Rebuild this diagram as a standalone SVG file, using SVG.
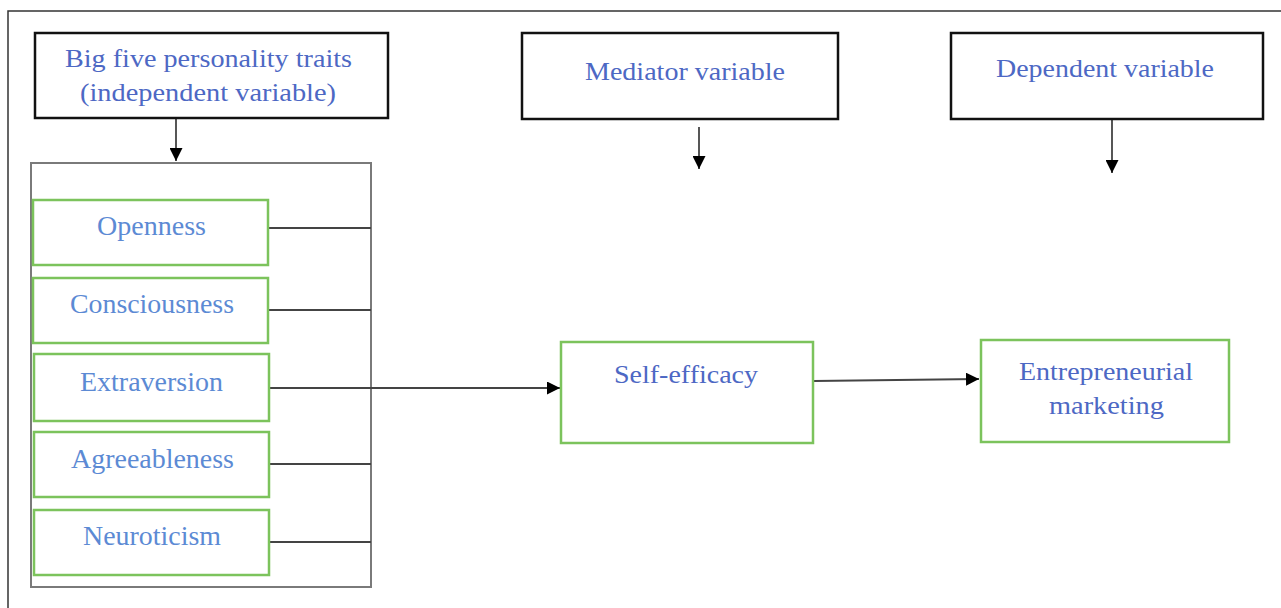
<svg xmlns="http://www.w3.org/2000/svg" width="1281" height="608" viewBox="0 0 1281 608">
<style>
.frame{fill:none;stroke:#333;stroke-width:1.5}
.hdr{fill:#fff;stroke:#111;stroke-width:2.5}
.grp{fill:none;stroke:#7a7a7a;stroke-width:2}
.grn{fill:#fff;stroke:#7cc35c;stroke-width:2.5}
.t1{font-family:"Liberation Serif",serif;font-size:26px;fill:#4d68c4;text-anchor:start}
.t2{font-family:"Liberation Serif",serif;font-size:27px;fill:#5c8ad4;text-anchor:start}
.ln{fill:none;stroke:#444;stroke-width:1.8}
</style>
<defs>
<marker id="ahb" viewBox="0 0 10 10" refX="10" refY="5" markerWidth="13" markerHeight="13" markerUnits="userSpaceOnUse" orient="auto">
<path d="M0,0 L10,5 L0,10 z" fill="#000"/>
</marker>
</defs>
<rect width="1281" height="608" fill="#fff"/>
<path class="frame" d="M8,608 L8,11 L1281,11"/>
<g id="container"><rect class="grp" x="31" y="163" width="340" height="424"/></g>
<g id="connectors">
<line class="ln" x1="176" y1="119" x2="176" y2="161" marker-end="url(#ahb)"/>
<line class="ln" x1="699" y1="127" x2="699" y2="169" marker-end="url(#ahb)"/>
<line class="ln" x1="1112" y1="119" x2="1112" y2="173" marker-end="url(#ahb)"/>
<line class="ln" x1="269" y1="228" x2="371" y2="228"/>
<line class="ln" x1="269" y1="310" x2="371" y2="310"/>
<line class="ln" x1="270" y1="388" x2="560" y2="388" marker-end="url(#ahb)"/>
<line class="ln" x1="270" y1="464" x2="371" y2="464"/>
<line class="ln" x1="270" y1="542" x2="371" y2="542"/>
<line class="ln" x1="814" y1="381" x2="979" y2="379" marker-end="url(#ahb)" stroke="#666" stroke-width="2.5"/>
</g>
<g id="header-independent">
<rect class="hdr" x="35" y="33" width="353" height="85"/>
<text class="t1" x="65" y="67" textLength="287" lengthAdjust="spacingAndGlyphs">Big five personality traits</text>
<text class="t1" x="80" y="101" textLength="256" lengthAdjust="spacingAndGlyphs">(independent variable)</text>
</g>
<g id="header-mediator">
<rect class="hdr" x="522" y="33" width="316" height="86"/>
<text class="t1" x="585" y="80" textLength="200" lengthAdjust="spacingAndGlyphs">Mediator variable</text>
</g>
<g id="header-dependent">
<rect class="hdr" x="951" y="33" width="312" height="86"/>
<text class="t1" x="996" y="77" textLength="218" lengthAdjust="spacingAndGlyphs">Dependent variable</text>
</g>
<g id="openness">
<rect class="grn" x="33" y="200" width="235" height="65"/>
<text class="t2" x="97" y="235" textLength="109" lengthAdjust="spacingAndGlyphs">Openness</text>
</g>
<g id="consciousness">
<rect class="grn" x="33" y="278" width="235" height="65"/>
<text class="t2" x="70" y="313" textLength="164" lengthAdjust="spacingAndGlyphs">Consciousness</text>
</g>
<g id="extraversion">
<rect class="grn" x="34" y="354" width="235" height="67"/>
<text class="t2" x="80" y="391" textLength="143" lengthAdjust="spacingAndGlyphs">Extraversion</text>
</g>
<g id="agreeableness">
<rect class="grn" x="34" y="432" width="235" height="65"/>
<text class="t2" x="71" y="468" textLength="163" lengthAdjust="spacingAndGlyphs">Agreeableness</text>
</g>
<g id="neuroticism">
<rect class="grn" x="34" y="510" width="235" height="65"/>
<text class="t2" x="83" y="545" textLength="138" lengthAdjust="spacingAndGlyphs">Neuroticism</text>
</g>
<g id="self-efficacy">
<rect class="grn" x="561" y="342" width="252" height="101"/>
<text class="t1" x="614" y="383" textLength="144" lengthAdjust="spacingAndGlyphs">Self-efficacy</text>
</g>
<g id="entrepreneurial-marketing">
<rect class="grn" x="981" y="340" width="248" height="102"/>
<text class="t1" x="1019" y="380" textLength="174" lengthAdjust="spacingAndGlyphs">Entrepreneurial</text>
<text class="t1" x="1049" y="414" textLength="115" lengthAdjust="spacingAndGlyphs">marketing</text>
</g>
</svg>
